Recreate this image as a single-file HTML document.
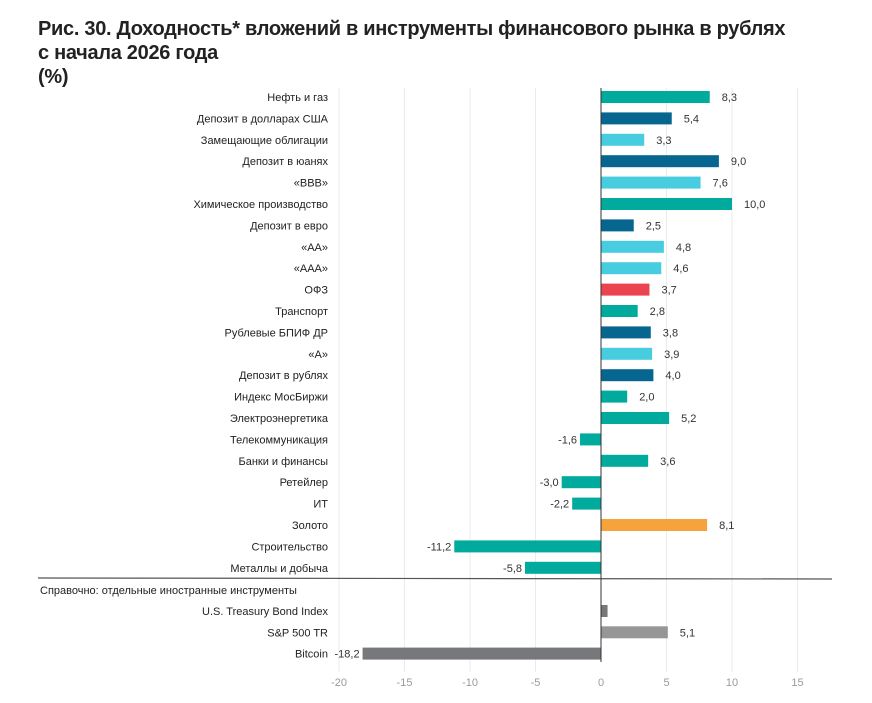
<!DOCTYPE html>
<html><head><meta charset="utf-8">
<style>
body{margin:0;background:#fff;width:872px;height:703px;overflow:hidden;font-family:"Liberation Sans",sans-serif}
#title{position:absolute;left:38px;top:17px;font-size:20px;font-weight:bold;color:#222;line-height:24px;letter-spacing:-0.3px}
svg{position:absolute;left:0;top:0}
</style></head><body>
<div id="title">Рис. 30. Доходность* вложений в инструменты финансового рынка в рублях<br>с начала 2026 года<br>(%)</div>
<svg id="chart" width="872" height="703"></svg>
<script>
const categories=["Нефть и газ","Депозит в долларах США","Замещающие облигации","Депозит в юанях","«BBB»","Химическое производство","Депозит в евро","«AA»","«AAA»","ОФЗ","Транспорт","Рублевые БПИФ ДР","«A»","Депозит в рублях","Индекс МосБиржи","Электроэнергетика","Телекоммуникация","Банки и финансы","Ретейлер","ИТ","Золото","Строительство","Металлы и добыча"];
const values=[8.3,5.4,3.3,9.0,7.6,10.0,2.5,4.8,4.6,3.7,2.8,3.8,3.9,4.0,2.0,5.2,-1.6,3.6,-3.0,-2.2,8.1,-11.2,-5.8];
const colorKeys=["t","d","l","d","l","t","d","l","l","r","t","d","l","d","t","t","t","t","t","t","o","t","t"];
const refCategories=["U.S. Treasury Bond Index","S&P 500 TR","Bitcoin"];
const refValues=[0.5,5.1,-18.2];
const refLabels=["","5,1","-18,2"];
const refColorKeys=["g","s","g"];
const ticks=[-20,-15,-10,-5,0,5,10,15];
const pal={t:"#00aa9c",d:"#06668f",l:"#48cde0",r:"#ea4450",o:"#f6a33c",g:"#77787c",s:"#969696"};
const svg=document.getElementById('chart');
const NS="http://www.w3.org/2000/svg";
const x=v=>601+v*13.1;
function el(tag,attrs,parent){const e=document.createElementNS(NS,tag);for(const k in attrs)e.setAttribute(k,attrs[k]);(parent||svg).appendChild(e);return e;}
const fmt=v=>v.toFixed(1).replace('.',',');
ticks.forEach(t=>{
  if(t!==0){const g=el('line',{x1:x(t),x2:x(t),y1:88,y2:672,stroke:'#ebebeb','stroke-width':1});
  
  }
  const tl=el('text',{x:x(t),y:686,'text-anchor':'middle','font-size':11,fill:'#9a9a9a'});
  
  
  tl.textContent=t;
});
const rowY=i=>97+i*21.4;
function drawRow(name,v,col,y,label){
  const cl=el('text',{x:328,y:y+4,'text-anchor':'end','font-size':11,fill:'#222'});
  
  
  cl.textContent=name;
  const x0=Math.min(x(0),x(v)),w=Math.abs(x(v)-x(0));
  const b=el('rect',{x:x0,y:y-6,width:w,height:12,fill:col});
  
  
  if(label){
    const vl=el('text',{x:v>=0?x(v)+12:x(v)-3,y:y+4,'text-anchor':v>=0?'start':'end','font-size':11,fill:'#333'});
    
    
    vl.textContent=label;
  }
}
categories.forEach((c,i)=>drawRow(c,values[i],pal[colorKeys[i]],rowY(i),fmt(values[i])));
const sep=el('line',{x1:38,x2:832,y1:578,y2:579,stroke:'#555','stroke-width':1.2});


const note=el('text',{x:40,y:594,'font-size':11,fill:'#222'});


note.textContent="Справочно: отдельные иностранные инструменты";
refCategories.forEach((c,i)=>drawRow(c,refValues[i],pal[refColorKeys[i]],611+i*21.3,refLabels[i]));
const ax=el('line',{x1:x(0),x2:x(0),y1:88,y2:662,stroke:'#333','stroke-width':1});


</script>
</body></html>
